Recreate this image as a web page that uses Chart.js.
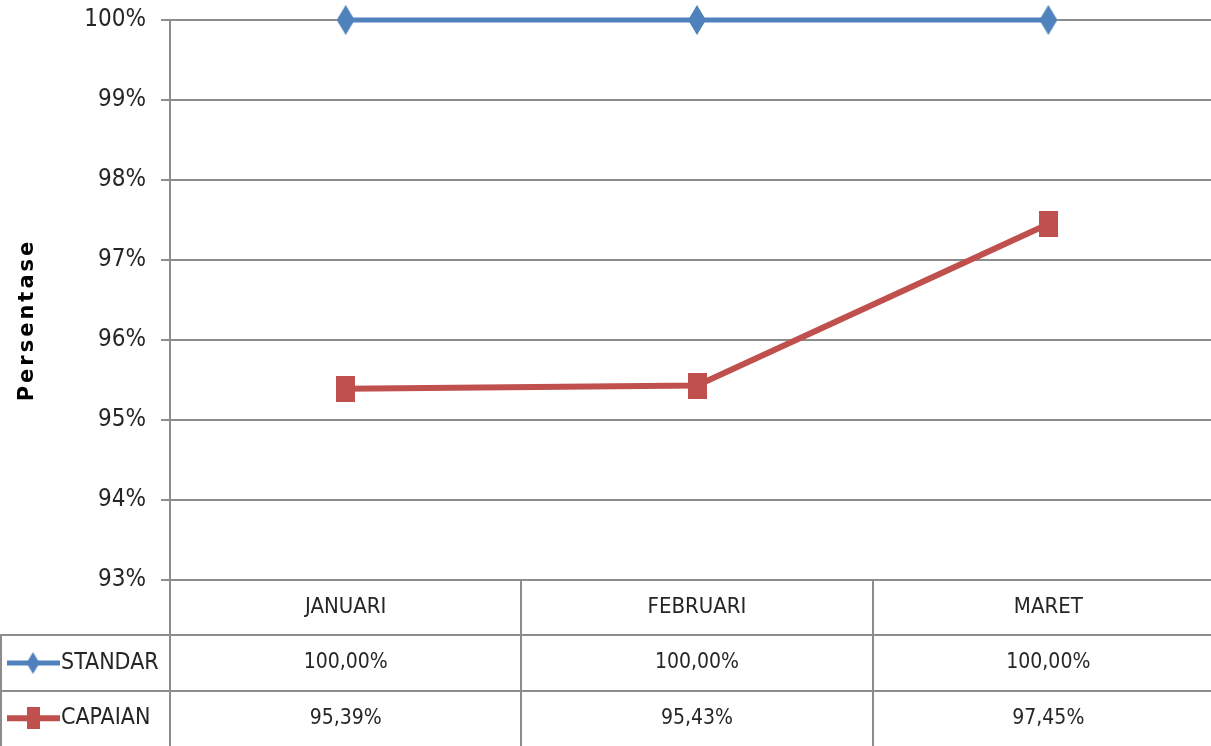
<!DOCTYPE html>
<html>
<head>
<meta charset="utf-8">
<script src="https://cdn.jsdelivr.net/npm/chart.js@4/dist/chart.umd.min.js"></script>
<style>
  html, body { margin: 0; padding: 0; background: #fff; overflow: hidden; }
  #chart { display: block; }
</style>
</head>
<body>
<!-- the original plot runs a few pixels past the right edge of the picture -->
<canvas id="chart" width="1224" height="746"></canvas>
<script>
// data
const months = ['JANUARI', 'FEBRUARI', 'MARET'];
const standar = [100, 100, 100];
const capaian = [95.39, 95.43, 97.45];
const seriesNames = ['STANDAR', 'CAPAIAN'];
const yMin = 93;
const yMax = 100;
const yTitle = 'Persentase';

const BLUE = '#4F81BD';
const RED = '#C0504D';
const GRID = '#8c8c8c';
const TEXT = '#262626';
const NARROW = '"DejaVu Sans Condensed", "DejaVu Sans", sans-serif';

// markers are taller than wide in the original
function makeMarker(kind, w, h, color) {
  const c = document.createElement('canvas');
  c.width = w; c.height = h;
  const g = c.getContext('2d');
  g.fillStyle = color;
  g.beginPath();
  if (kind === 'diamond') {
    g.moveTo(w / 2, 0); g.lineTo(w, h / 2); g.lineTo(w / 2, h); g.lineTo(0, h / 2);
  } else {
    g.rect(0, 0, w, h);
  }
  g.closePath();
  g.fill();
  return c;
}

function fmt(v) {
  return v.toFixed(2).replace('.', ',') + '%';
}

const rows = [
  { name: seriesNames[0], values: standar, color: BLUE, lw: 5,
    marker: makeMarker('diamond', 18, 30, BLUE), key: makeMarker('diamond', 13, 22, BLUE) },
  { name: seriesNames[1], values: capaian, color: RED, lw: 6,
    marker: makeMarker('rect', 19, 26, RED), key: makeMarker('rect', 13, 22, RED) }
];

// data table + axis title drawn under the plot area
const dataTable = {
  id: 'dataTable',
  afterDraw(chart) {
    const { ctx, chartArea: area } = chart;
    const H = chart.height;
    const rowH = (H - area.bottom) / 3;
    const colW = (area.right - area.left) / months.length;
    ctx.save();

    ctx.strokeStyle = GRID;
    ctx.lineWidth = 2;
    ctx.beginPath();
    for (let r = 1; r < 3; r++) {
      const y = Math.round(area.bottom + r * rowH);
      ctx.moveTo(0, y); ctx.lineTo(area.right, y);
    }
    ctx.moveTo(1, area.bottom + rowH); ctx.lineTo(1, H);
    for (let c = 0; c < months.length; c++) {
      const cx = Math.round(area.left + c * colW);
      ctx.moveTo(cx, area.bottom); ctx.lineTo(cx, H);
    }
    ctx.stroke();

    ctx.fillStyle = TEXT;
    ctx.textBaseline = 'middle';
    ctx.textAlign = 'center';
    ctx.font = '22px ' + NARROW;
    months.forEach((m, i) => {
      const cx = area.left + (i + 0.5) * colW;
      ctx.fillText(m, cx, area.bottom + rowH / 2);
    });

    rows.forEach((row, r) => {
      const y = area.bottom + (r + 1.5) * rowH;
      // legend key
      ctx.strokeStyle = row.color;
      ctx.lineWidth = row.lw;
      ctx.beginPath();
      ctx.moveTo(7, y); ctx.lineTo(60, y);
      ctx.stroke();
      ctx.drawImage(row.key, 33 - row.key.width / 2, y - row.key.height / 2);
      ctx.textAlign = 'left';
      ctx.fillStyle = TEXT;
      ctx.font = '23px ' + NARROW;
      ctx.fillText(row.name, 61, y);
      ctx.textAlign = 'center';
      ctx.font = '21px ' + NARROW;
      row.values.forEach((v, i) => {
        ctx.fillText(fmt(v), area.left + (i + 0.5) * colW, y);
      });
    });

    // y axis title
    ctx.translate(28, 320);
    ctx.rotate(-Math.PI / 2);
    ctx.font = 'bold 21px "DejaVu Sans", sans-serif';
    ctx.letterSpacing = '3px';
    ctx.fillStyle = '#000';
    ctx.textAlign = 'center';
    ctx.fillText(yTitle, 0, 0);
    ctx.restore();
  }
};

new Chart(document.getElementById('chart'), {
  type: 'line',
  data: {
    labels: months,
    datasets: rows.map(row => ({
      label: row.name,
      data: row.values,
      borderColor: row.color,
      backgroundColor: row.color,
      borderWidth: row.lw,
      pointStyle: row.marker,
      tension: 0,
      fill: false,
      clip: false
    }))
  },
  options: {
    responsive: false,
    animation: false,
    layout: { autoPadding: false, padding: { top: 20, right: 0, bottom: 166, left: 0 } },
    plugins: {
      legend: { display: false },
      tooltip: { enabled: false }
    },
    scales: {
      x: { display: false, offset: true },
      y: {
        min: yMin,
        max: yMax,
        ticks: {
          stepSize: 1,
          padding: 15,
          color: TEXT,
          // small lineHeight keeps the top label from pushing the plot down
          font: { family: NARROW, size: 24, lineHeight: 0.35 },
          callback: v => v + '%'
        },
        grid: { color: GRID, lineWidth: 2, tickLength: 9 },
        border: { color: GRID, width: 2 },
        afterFit(scale) { scale.width = 170; }
      }
    }
  },
  plugins: [dataTable]
});
</script>
</body>
</html>
